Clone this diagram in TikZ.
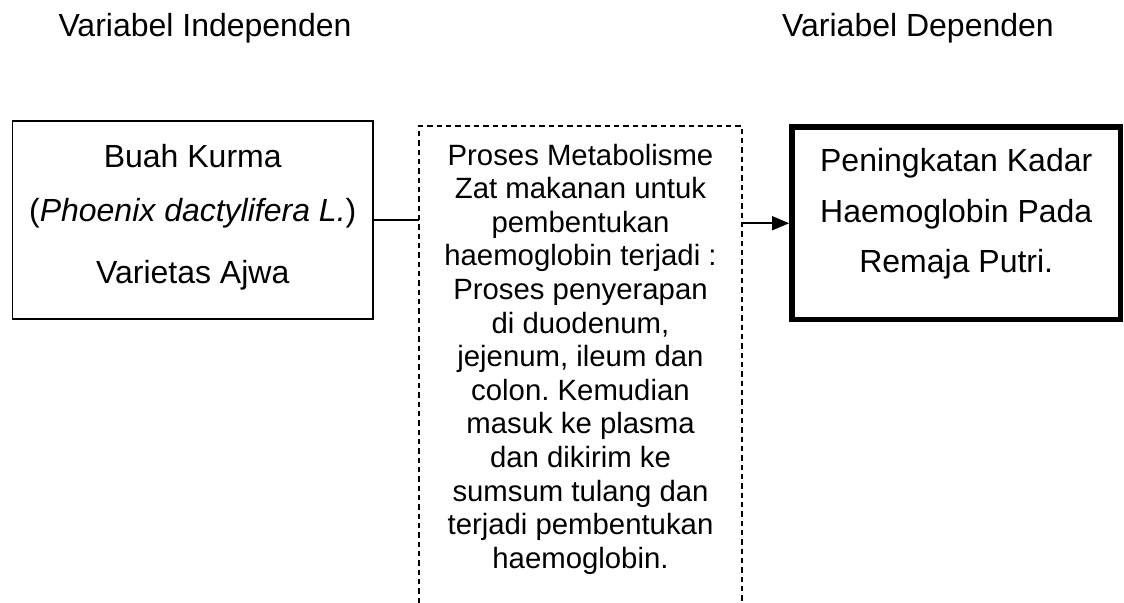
\documentclass[tikz,border=0pt]{standalone}
\usepackage{fontspec}
\setmainfont{Liberation Sans}
\usetikzlibrary{positioning,arrows.meta}
\frenchspacing

\begin{document}
\begin{tikzpicture}[x=0.375pt,y=-0.375pt]% Kerangka konsep
	\tikzstyle{heading} = [font=\fontsize{12}{14}\selectfont, anchor=base, inner sep=0pt]
	\tikzstyle{varbox} = [rectangle, draw=black, line width=0.7pt, minimum width=135.2pt, minimum height=74.25pt, align=center, font=\fontsize{12}{20.25}\selectfont]
	\tikzstyle{depbox} = [rectangle, draw=black, line width=2.1pt, minimum width=123.2pt, minimum height=72.2pt, align=center, font=\fontsize{12}{19}\selectfont]
	\tikzstyle{procframe} = [rectangle, inner sep=0pt, outer sep=0pt, minimum width=121.1pt, minimum height=178.9pt]
	\tikzstyle{proctext} = [inner sep=0pt, align=center, font=\fontsize{11}{12.6}\selectfont]
	\tikzstyle{link} = [draw=black, line width=0.6pt]
	
	\useasboundingbox[fill=white] (0,0) rectangle (1124,603);
	
	\node (indep) [heading] at (205,36) {Variabel Independen};
	\node (dep) [heading] at (918,36) {Variabel Dependen};
	
	\node (kurma) [varbox] at (192.75,220) {Buah Kurma\\(\textit{Phoenix dactylifera L.})\\[2.9pt]Varietas Ajwa\rule[-4.3pt]{0pt}{4.3pt}};
	\node (proc) [procframe] at (580.5,364.5) {};
	\node (proctext) [proctext, below=6.5pt of proc.north] {Proses Metabolisme\\Zat makanan untuk\\pembentukan\\haemoglobin terjadi :\\Proses penyerapan\\di duodenum,\\jejenum, ileum dan\\colon. Kemudian\\masuk ke plasma\\dan dikirim ke\\sumsum tulang dan\\terjadi pembentukan\\haemoglobin.};
	\node (hb) [depbox] at (956.25,223.25) {Peningkatan Kadar\\Haemoglobin Pada\\Remaja Putri.\rule[-9.5pt]{0pt}{9.5pt}};
	
	\draw[link, dash pattern=on 2pt off 1.5pt] (proc.south west) -- (proc.north west) -- (proc.north east) -- (proc.south east);
	
	\draw[link] (kurma.east) -- (kurma.east -| proc.west);
	\draw[link, -{Triangle[length=6.4pt,width=5.25pt]}] (proc.east |- hb.west) -- (hb.west);
	
\end{tikzpicture}
\end{document}
